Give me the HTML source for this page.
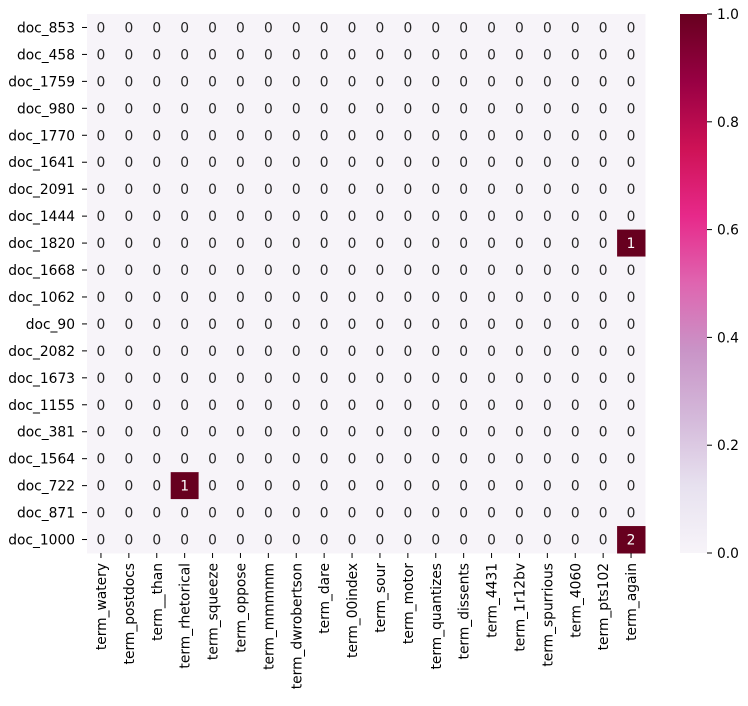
<!DOCTYPE html>
<html><head><meta charset="utf-8"><style>
body{margin:0;background:#fff;font-family:"Liberation Sans","DejaVu Sans",sans-serif}
svg text{font-family:"DejaVu Sans","Liberation Sans",sans-serif;font-size:13.8px}
</style></head><body>
<svg id="c" width="748" height="701">
<defs><linearGradient id="g" x1="0" y1="1" x2="0" y2="0">
<stop offset="0" stop-color="#f7f4f9"/><stop offset="0.125" stop-color="#e7e1ef"/><stop offset="0.25" stop-color="#d4b9da"/><stop offset="0.375" stop-color="#c994c7"/><stop offset="0.5" stop-color="#df65b0"/><stop offset="0.625" stop-color="#e7298a"/><stop offset="0.75" stop-color="#ce1256"/><stop offset="0.875" stop-color="#980043"/><stop offset="1" stop-color="#67001f"/>
</linearGradient></defs>
</svg>
<script>
const rows=["doc_853","doc_458","doc_1759","doc_980","doc_1770","doc_1641","doc_2091","doc_1444","doc_1820","doc_1668","doc_1062","doc_90","doc_2082","doc_1673","doc_1155","doc_381","doc_1564","doc_722","doc_871","doc_1000"];
const cols=["term_watery","term_postdocs","term__than","term_rhetorical","term_squeeze","term_oppose","term_mmmmm","term_dwrobertson","term_dare","term_00index","term_sour","term_motor","term_quantizes","term_dissents","term_4431","term_1r12bv","term_spurrious","term_4060","term_pts102","term_again"];
const nonzero=[[8,19,1],[17,3,1],[19,19,2]];
const cbTicks=[0,0.2,0.4,0.6,0.8,1.0];
const NS="http://www.w3.org/2000/svg";
const svg=document.getElementById('c');
const X0=87,X1=645,Y0=14,Y1=553,cw=(X1-X0)/cols.length,rh=(Y1-Y0)/rows.length;
const CX=680,CW=27;
function el(t,a,txt){const e=document.createElementNS(NS,t);for(const k in a)e.setAttribute(k,a[k]);if(txt!==undefined)e.textContent=txt;svg.appendChild(e);return e;}
const vals=rows.map(()=>cols.map(()=>0));
nonzero.forEach(([r,c,v])=>vals[r][c]=v);
rows.forEach((rn,i)=>{
 cols.forEach((cn,j)=>{
  const v=vals[i][j];
  const r=el('rect',{x:X0+j*cw,y:Y0+i*rh,width:cw+0.5,height:rh+0.5,fill:v>0?'#67001f':'#f7f4f9'});
  
  
  const t=el('text',{x:X0+(j+.5)*cw,y:Y0+(i+.5)*rh+5,'text-anchor':'middle',fill:v>0?'#fff':'#262626'},String(v));
  
  
 });
 const y=Y0+(i+.5)*rh;
 el('line',{x1:X0-5,x2:X0,y1:y,y2:y,stroke:'#000'});
 const t=el('text',{x:X0-12,y:y+5,'text-anchor':'end',fill:'#000'},rn);
 
 
});
cols.forEach((cn,j)=>{
 const x=X0+(j+.5)*cw;
 el('line',{x1:x,x2:x,y1:Y1,y2:Y1+5,stroke:'#000'});
 const t=el('text',{x:0,y:0,'text-anchor':'end',fill:'#000',transform:`translate(${x+5},${Y1+10}) rotate(-90)`},cn);
 
 
});
const cb=el('rect',{x:CX,y:Y0,width:CW,height:Y1-Y0,fill:'url(#g)'});


cbTicks.forEach(v=>{
 const y=Y1-v*(Y1-Y0);
 el('line',{x1:CX+CW,x2:CX+CW+5,y1:y,y2:y,stroke:'#000'});
 const t=el('text',{x:CX+CW+10,y:y+5,fill:'#000'},v.toFixed(1));
 
 
});
</script>
</body></html>
